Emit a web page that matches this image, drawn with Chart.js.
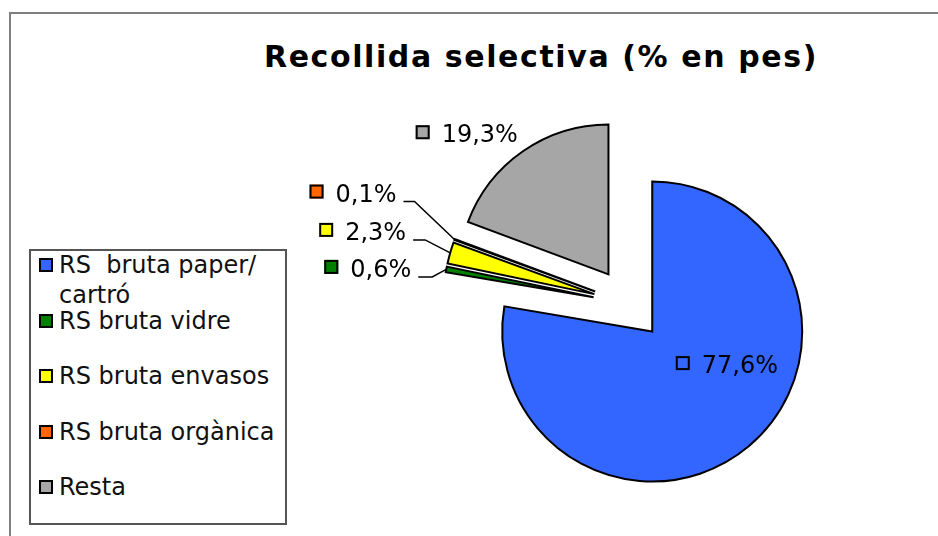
<!DOCTYPE html>
<html>
<head>
<meta charset="utf-8">
<script src="https://cdn.jsdelivr.net/npm/chart.js@4.4.1/dist/chart.umd.min.js"></script>
<style>
  html, body { margin: 0; padding: 0; background: #fff; overflow: hidden; }
  body { width: 938px; height: 536px; position: relative; font-family: "DejaVu Sans", Verdana, sans-serif; }
  #frame { position: absolute; left: 9px; top: 12px; width: 2000px; height: 2000px; border: 2px solid #7f7f7f; }
  #title { position: absolute; left: 0; top: 39px; width: 1082px; text-align: center; font-weight: bold; font-size: 30px; letter-spacing: 1.6px; color: #000; white-space: nowrap; }
  #legend { position: absolute; left: 29px; top: 249px; width: 258px; height: 276px; box-sizing: border-box; border: 2px solid #555; background: #fff; }
  .item { position: absolute; left: 0; }
  .swatch { position: absolute; left: 8px; width: 14px; height: 14px; box-sizing: border-box; border: 2px solid #000; }
  .txt { position: absolute; left: 28px; width: 228px; font-size: 24px; line-height: 30px; white-space: pre-wrap; color: #111; }
  canvas { position: absolute; left: 0; top: 0; }
</style>
</head>
<body>
<div id="frame"></div>
<div id="title">Recollida selectiva (% en pes)</div>
<canvas id="pieChart" width="938" height="536"></canvas>
<div id="legend"></div>
<script>
// dades
const categories = ["RS  bruta paper/ cartró", "RS bruta vidre", "RS bruta envasos", "RS bruta orgànica", "Resta"];
const values = [77.6, 0.6, 2.3, 0.1, 19.3];
const colors = ["#3366ff", "#008000", "#ffff00", "#ff6600", "#a6a6a6"];

// separacio de les porcions (px) i posicio de les etiquetes respecte al punt exterior
const EXPLODE = 36;
const labelPlace = [
  { dx: 29, dy: -73, leader: 0 },
  { dx: -35, dy: 7.5, leader: 14 },
  { dx: -44, dy: -13, leader: 12 },
  { dx: -58, dy: -38, leader: 11 },
  { dx: -5, dy: -9, leader: 0 },
];

// llegenda
const legend = document.getElementById("legend");
categories.forEach((name, i) => {
  const item = document.createElement("div");
  item.className = "item";
  item.style.top = (i * 55.5) + "px";
  item.innerHTML = '<div class="swatch" style="top:7px;background:' + colors[i] + '"></div>' +
                   '<div class="txt" style="top:-1px">' + name + '</div>';
  legend.appendChild(item);
});

// moure cada porcio cap a fora segons el seu angle mig
const explodePlugin = {
  id: "explode",
  afterDatasetUpdate(chart, args) {
    const area = chart.chartArea;
    const cx = (area.left + area.right) / 2;
    const cy = (area.top + area.bottom) / 2;
    args.meta.data.forEach(arc => {
      const mid = (arc.startAngle + arc.endAngle) / 2;
      arc.x = cx + Math.cos(mid) * EXPLODE;
      arc.y = cy + Math.sin(mid) * EXPLODE;
    });
  }
};

// etiquetes amb quadradet i linia guia
const labelPlugin = {
  id: "sliceLabels",
  afterDatasetsDraw(chart) {
    const ctx = chart.ctx;
    const meta = chart.getDatasetMeta(0);
    ctx.save();
    ctx.font = '24px "DejaVu Sans"';
    ctx.textAlign = "right";
    ctx.textBaseline = "alphabetic";
    meta.data.forEach((arc, i) => {
      const mid = (arc.startAngle + arc.endAngle) / 2;
      const ox = arc.x + Math.cos(mid) * arc.outerRadius;
      const oy = arc.y + Math.sin(mid) * arc.outerRadius;
      const p = labelPlace[i];
      const text = values[i].toFixed(1).replace(".", ",") + "%";
      const right = ox + p.dx;
      const base = oy + p.dy;
      const w = ctx.measureText(text).width;
      ctx.fillStyle = "#000";
      ctx.fillText(text, right, base);
      const mx = right - w - 12 - 14;
      ctx.fillStyle = colors[i];
      ctx.fillRect(mx, base - 17, 14, 14);
      ctx.lineWidth = 2;
      ctx.strokeStyle = "#000";
      ctx.strokeRect(mx + 1, base - 16, 12, 12);
      if (p.leader) {
        ctx.beginPath();
        ctx.moveTo(right + 7, base);
        ctx.lineTo(right + 7 + p.leader, base);
        ctx.lineTo(ox, oy);
        ctx.lineWidth = 1.5;
        ctx.stroke();
      }
    });
    ctx.restore();
  }
};

new Chart(document.getElementById("pieChart").getContext("2d"), {
  type: "pie",
  data: {
    labels: categories,
    datasets: [{
      data: values,
      backgroundColor: colors,
      borderColor: "#000",
      borderWidth: 2,
      borderJoinStyle: "miter",
    }]
  },
  options: {
    responsive: false,
    animation: false,
    events: [],
    radius: 150,
    layout: { padding: { left: 429, right: 109, top: 104, bottom: 32 } },
    plugins: {
      legend: { display: false },
      title: { display: false },
      tooltip: { enabled: false },
    },
  },
  plugins: [explodePlugin, labelPlugin],
});
</script>
</body>
</html>
